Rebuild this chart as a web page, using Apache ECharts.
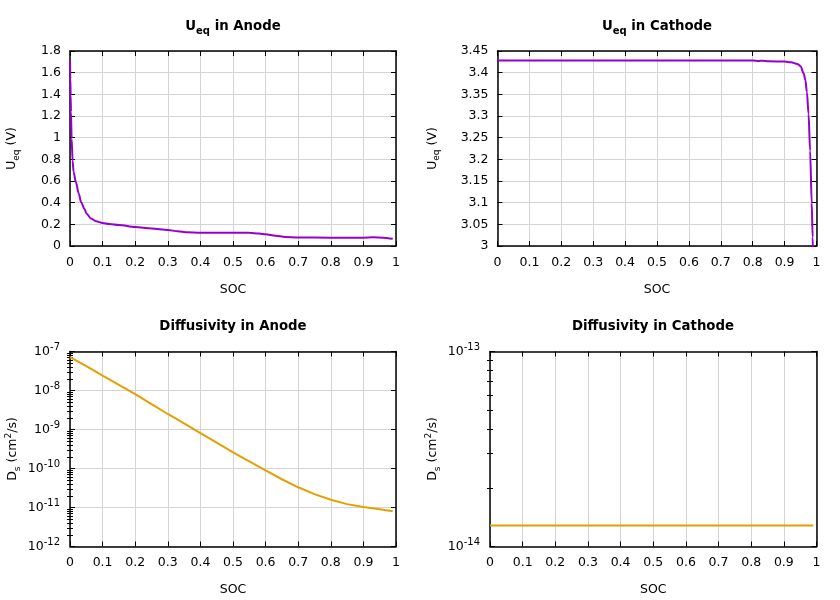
<!DOCTYPE html>
<html><head><meta charset="utf-8">
<script src="https://cdn.jsdelivr.net/npm/echarts@6/dist/echarts.min.js"></script>
<style>html,body{margin:0;padding:0;background:#fff}#c{width:840px;height:600px}</style>
</head><body><div id="c"></div>
<script>
// ---------- data ----------
const socAnodeU = [0, 0.001, 0.002, 0.003, 0.005, 0.008, 0.011, 0.018, 0.027, 0.034, 0.044, 0.051, 0.064, 0.08, 0.1, 0.12, 0.15, 0.2, 0.25, 0.3, 0.33, 0.36, 0.4, 0.45, 0.5, 0.55, 0.58, 0.6, 0.63, 0.66, 0.7, 0.8, 0.9, 0.93, 0.96, 0.99];
const ueqAnode  = [1.714, 1.545, 1.391, 1.237, 0.991, 0.79, 0.682, 0.59, 0.482, 0.405, 0.344, 0.298, 0.255, 0.228, 0.213, 0.204, 0.195, 0.176, 0.161, 0.148, 0.136, 0.126, 0.122, 0.123, 0.123, 0.122, 0.115, 0.108, 0.094, 0.084, 0.078, 0.077, 0.077, 0.08, 0.077, 0.066];

const socCathodeU = [0, 0.1, 0.2, 0.3, 0.4, 0.5, 0.6, 0.7, 0.8, 0.82, 0.83, 0.85, 0.9, 0.92, 0.94, 0.95, 0.96, 0.965, 0.97, 0.975, 0.98, 0.985, 0.988, 0.99];
const ueqCathode  = [3.428, 3.428, 3.428, 3.428, 3.428, 3.428, 3.428, 3.428, 3.428, 3.427, 3.4275, 3.4265, 3.4255, 3.424, 3.42, 3.415, 3.398, 3.383, 3.355, 3.305, 3.22, 3.10, 3.02, 2.96];

const socAnodeD = [0, 0.05, 0.1, 0.15, 0.2, 0.25, 0.3, 0.35, 0.4, 0.45, 0.5, 0.55, 0.6, 0.65, 0.7, 0.75, 0.8, 0.85, 0.9, 0.95, 0.99];
const dsAnode   = [7.2e-8, 4.2e-8, 2.4e-8, 1.4e-8, 8.1e-9, 4.5e-9, 2.5e-9, 1.43e-9, 8.1e-10, 4.6e-10, 2.6e-10, 1.52e-10, 8.9e-11, 5.3e-11, 3.3e-11, 2.2e-11, 1.58e-11, 1.22e-11, 1.03e-11, 9.0e-12, 8.0e-12];

const socCathodeD = [0, 0.99];
const dsCathode   = [1.28e-14, 1.28e-14];

const titles = ['{b|U}{bs|eq}{b| in Anode}', '{b|U}{bs|eq}{b| in Cathode}', 'Diffusivity in Anode', 'Diffusivity in Cathode'];
const yNameU = 'U{s|eq} (V)';
const yNameD = 'D{s|s} (cm{p|2}/s)';
const xName = 'SOC';

// minor tick positions for log axes
const minorAnode = [];
for (let d = -12; d <= -8; d++) for (let k = 2; k <= 9; k++) minorAnode.push(+(k * Math.pow(10, d)).toPrecision(3));
const minorCathode = [];
for (let k = 2; k <= 9; k++) minorCathode.push(+(k * 1e-14).toPrecision(3));

// ---------- style ----------
const FONT = 'DejaVu Sans';
const AX = '#000';
const GRIDC = '#d4d4d4';
const PURPLE = '#9400d3';
const ORANGE = '#e69f00';
const FS = 12.5;
const TFS = 13.3;

function pairs(xs, ys) { return xs.map((x, i) => [x, ys[i]]); }

const lineAx = {show: true, onZero: false, lineStyle: {color: AX, width: 1.5}};
const tickMain = {show: true, inside: true, length: 5, lineStyle: {color: AX, width: 1}};

function xPair(gi) {
  return [{
    gridIndex: gi, type: 'value', position: 'bottom', min: 0, max: 1, interval: 0.1,
    name: xName, nameLocation: 'middle', nameGap: 37,
    nameTextStyle: {color: AX, fontFamily: FONT, fontSize: FS},
    axisLine: lineAx, axisTick: tickMain,
    axisLabel: {color: AX, fontFamily: FONT, fontSize: FS, margin: 10},
    splitLine: {show: true, lineStyle: {color: GRIDC, width: 1}}
  }, {
    gridIndex: gi, type: 'value', position: 'top', min: 0, max: 1, interval: 0.1,
    axisLine: lineAx, axisTick: tickMain, axisLabel: {show: false}, splitLine: {show: false}
  }];
}

const nameRich = {
  s: {fontSize: 9, verticalAlign: 'bottom', fontFamily: FONT, color: AX, lineHeight: 12},
  p: {fontSize: 9, verticalAlign: 'top', fontFamily: FONT, color: AX, lineHeight: 12}
};

function yLin(gi, min, max, interval, gap) {
  return [{
    gridIndex: gi, type: 'value', position: 'left', min, max, interval,
    name: yNameU, nameLocation: 'middle', nameGap: gap, nameRotate: 90,
    nameTextStyle: {color: AX, fontFamily: FONT, fontSize: FS, lineHeight: 18, rich: nameRich},
    axisLine: lineAx, axisTick: tickMain,
    axisLabel: {color: AX, fontFamily: FONT, fontSize: FS, margin: 9},
    splitLine: {show: true, lineStyle: {color: GRIDC, width: 1}}
  }, {
    gridIndex: gi, type: 'value', position: 'right', min, max, interval,
    axisLine: lineAx, axisTick: tickMain, axisLabel: {show: false}, splitLine: {show: false}
  }];
}

function yLog(gi, min, max, gap, minors, split) {
  const base = {gridIndex: gi, type: 'log', logBase: 10, min, max, interval: 1};
  const minorTick = {show: true, inside: true, length: 3, lineStyle: {color: AX, width: 1}, customValues: minors};
  return [
    Object.assign({}, base, {
      position: 'left', name: yNameD, nameLocation: 'middle', nameGap: gap, nameRotate: 90,
      nameTextStyle: {color: AX, fontFamily: FONT, fontSize: FS, lineHeight: 18, rich: nameRich},
      axisLine: lineAx, axisTick: tickMain,
      axisLabel: {
        color: AX, fontFamily: FONT, fontSize: FS, margin: 10, lineHeight: 18,
        formatter: v => '10{sup|' + Math.round(Math.log10(v)) + '}',
        rich: {sup: {fontSize: 10, verticalAlign: 'top', fontFamily: FONT, color: AX, lineHeight: 12}}
      },
      splitLine: {show: split, lineStyle: {color: GRIDC, width: 1}}
    }),
    Object.assign({}, base, {position: 'right', axisLine: lineAx, axisTick: tickMain, axisLabel: {show: false}, splitLine: {show: false}}),
    Object.assign({}, base, {position: 'left', axisLine: {show: false}, axisTick: minorTick, axisLabel: {show: false}, splitLine: {show: false}}),
    Object.assign({}, base, {position: 'right', axisLine: {show: false}, axisTick: minorTick, axisLabel: {show: false}, splitLine: {show: false}})
  ];
}

const titleRich = {
  b: {fontSize: TFS, fontWeight: 'bold', fontFamily: FONT, color: AX, lineHeight: 18},
  bs: {fontSize: 10, fontWeight: 'bold', fontFamily: FONT, color: AX, verticalAlign: 'bottom', lineHeight: 12}
};
function mkTitle(i, cx, top) {
  return {
    text: titles[i], left: cx, top, textAlign: 'center', padding: 0,
    textStyle: {fontSize: TFS, fontWeight: 'bold', fontFamily: FONT, color: AX, lineHeight: 18, rich: titleRich}
  };
}

function mkLine(xi, yi, xs, ys, color, smooth) {
  return {
    type: 'line', xAxisIndex: xi, yAxisIndex: yi, data: pairs(xs, ys),
    showSymbol: false, smooth: smooth, smoothMonotone: 'x', clip: true,
    lineStyle: {color, width: 2}, itemStyle: {color}
  };
}

const option = {
  animation: false,
  backgroundColor: '#fff',
  title: [mkTitle(0, 233, 18), mkTitle(1, 657, 18), mkTitle(2, 233, 318), mkTitle(3, 653, 318)],
  grid: [
    {left: 70, top: 51, width: 326, height: 195},
    {left: 497.5, top: 51, width: 319, height: 195},
    {left: 70, top: 351.5, width: 326, height: 195},
    {left: 490, top: 351.5, width: 326.5, height: 195}
  ],
  xAxis: [].concat(xPair(0), xPair(1), xPair(2), xPair(3)),
  yAxis: [].concat(
    yLin(0, 0, 1.8, 0.2, 49),
    yLin(1, 3, 3.45, 0.05, 56),
    yLog(2, 1e-12, 1e-7, 48, minorAnode, true),
    yLog(3, 1e-14, 1e-13, 48, minorCathode, false)
  ),
  series: [
    mkLine(0, 0, socAnodeU, ueqAnode, PURPLE, 0.3),
    mkLine(2, 2, socCathodeU, ueqCathode, PURPLE, 0.3),
    mkLine(4, 4, socAnodeD, dsAnode, ORANGE, false),
    mkLine(6, 8, socCathodeD, dsCathode, ORANGE, false)
  ]
};

const chart = echarts.init(document.getElementById('c'), null, {renderer: 'canvas'});
chart.setOption(option);
</script>
</body></html>
